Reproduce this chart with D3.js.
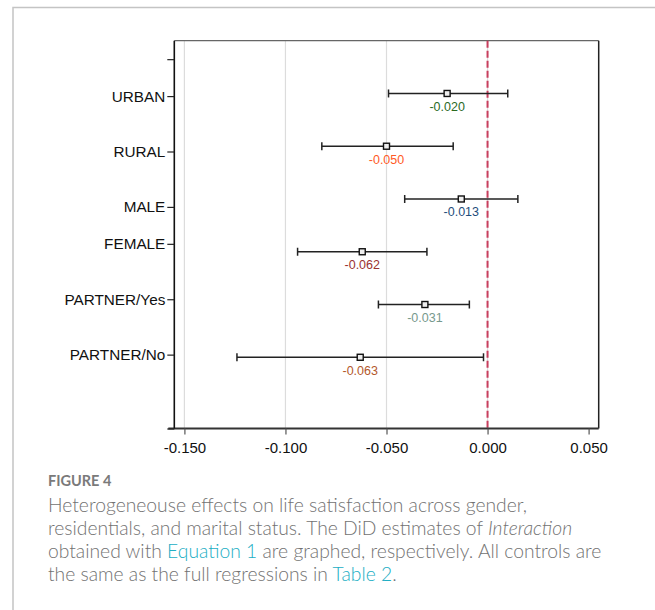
<!DOCTYPE html>
<html>
<head>
<meta charset="utf-8">
<script src="https://cdn.jsdelivr.net/npm/d3@7.9.0/dist/d3.min.js"></script>
<style>
  body { margin: 0; background: #fff; }
  svg { display: block; }
</style>
</head>
<body>
<svg id="fig" width="655" height="610"></svg>
<script>
// estimates and 95% CI
const groups = ["URBAN", "RURAL", "MALE", "FEMALE", "PARTNER/Yes", "PARTNER/No"];
const estimate = [-0.020, -0.050, -0.013, -0.062, -0.031, -0.063];
const ciLow = [-0.049, -0.082, -0.041, -0.094, -0.054, -0.124];
const ciHigh = [0.010, -0.017, 0.015, -0.030, -0.009, -0.002];

// y-axis ticks (in row units) and their labels, as in the original
const yTickAt = [0.35, 1.05, 2.1, 3.15, 3.85, 4.9, 5.95, 7.35];
const yTickLabels = ["", "URBAN", "RURAL", "MALE", "FEMALE", "PARTNER/Yes", "PARTNER/No", ""];
const xTicks = [-0.150, -0.100, -0.050, 0.000, 0.050];
const gridAt = [-0.150, -0.100, -0.050, 0.000];

const labelColors = ["#2b6a1f", "#ff5a26", "#1f4e7c", "#9a3232", "#77998d", "#b3582c"];

const svg = d3.select('#fig');

// card border
svg.append('path')
  .attr('d', 'M13,610 L13,7.5 L655,7.5')
  .attr('fill', 'none')
  .attr('stroke', '#c4c4c4')
  .attr('stroke-width', 1.5);

const pLeft = 174.3, pRight = 598.7, pTop = 40.7, pBottom = 428.5;

const x = d3.scaleLinear().domain([-0.155, 0.055]).range([pLeft, pRight]);
const y = d3.scaleLinear().domain([0, 7.35]).range([pTop, pBottom]);

// gridlines
svg.append('g').selectAll('line')
  .data(gridAt)
  .join('line')
  .attr('x1', d => x(d)).attr('x2', d => x(d))
  .attr('y1', pTop).attr('y2', pBottom)
  .attr('stroke', '#dcdcdc')
  .attr('stroke-width', 1.2);

// frame top & right
svg.append('path')
  .attr('d', `M${pLeft},${pTop} L${pRight},${pTop}`)
  .attr('stroke', '#666').attr('stroke-width', 1.2).attr('fill', 'none');
svg.append('path')
  .attr('d', `M${pRight},${pTop} L${pRight},${pBottom}`)
  .attr('stroke', '#222').attr('stroke-width', 1.5).attr('fill', 'none');

// zero line
svg.append('line')
  .attr('x1', x(0)).attr('x2', x(0))
  .attr('y1', pTop).attr('y2', pBottom)
  .attr('stroke', '#c83e5e')
  .attr('stroke-width', 2)
  .attr('stroke-dasharray', '7,3');

// bottom axis
const xAxis = svg.append('g')
  .attr('transform', `translate(0,${pBottom})`)
  .call(d3.axisBottom(x).tickValues(xTicks).tickSize(6).tickPadding(8)
    .tickFormat(d => d.toFixed(3)));
xAxis.select('.domain')
  .attr('d', `M${pLeft - 6},0 L${pRight},0`)
  .attr('stroke', '#333').attr('stroke-width', 2.2);
xAxis.selectAll('.tick line').attr('stroke', '#555').attr('stroke-width', 1.2);
xAxis.selectAll('.tick text')
  .attr('font-family', 'Liberation Sans, Arial, sans-serif')
  .attr('font-size', 15).attr('fill', '#111');

// left axis
const yAxis = svg.append('g')
  .attr('transform', `translate(${pLeft},0)`)
  .call(d3.axisLeft(y).tickValues(yTickAt).tickSize(7).tickPadding(2)
    .tickFormat((d, i) => yTickLabels[i]));
yAxis.select('.domain')
  .attr('d', `M0,${pTop} L0,${pBottom}`)
  .attr('stroke', '#111').attr('stroke-width', 1.6);
yAxis.selectAll('.tick line').attr('stroke', '#222').attr('stroke-width', 1.2);
yAxis.selectAll('.tick text')
  .attr('font-family', 'Liberation Sans, Arial, sans-serif')
  .attr('font-size', 15.3).attr('fill', '#111');

// error bars
const rows = groups.map((g, i) => ({ g, i, est: estimate[i], lo: ciLow[i], hi: ciHigh[i] }));
const bars = svg.append('g').selectAll('g')
  .data(rows)
  .join('g')
  .attr('transform', d => `translate(0,${y(d.i + 1)})`);

bars.append('line')
  .attr('x1', d => x(d.lo)).attr('x2', d => x(d.hi))
  .attr('stroke', '#222').attr('stroke-width', 1.5);
bars.append('line')
  .attr('x1', d => x(d.lo)).attr('x2', d => x(d.lo))
  .attr('y1', -4).attr('y2', 4)
  .attr('stroke', '#222').attr('stroke-width', 1.5);
bars.append('line')
  .attr('x1', d => x(d.hi)).attr('x2', d => x(d.hi))
  .attr('y1', -4).attr('y2', 4)
  .attr('stroke', '#222').attr('stroke-width', 1.5);
bars.append('rect')
  .attr('x', d => x(d.est) - 3).attr('y', -3)
  .attr('width', 6).attr('height', 6)
  .attr('fill', '#eee').attr('stroke', '#111').attr('stroke-width', 1.4);
bars.append('text')
  .attr('x', d => x(d.est)).attr('y', 17.5)
  .attr('text-anchor', 'middle')
  .attr('font-family', 'Liberation Sans, Arial, sans-serif')
  .attr('font-size', 12.5)
  .attr('fill', d => labelColors[d.i])
  .text(d => d.est.toFixed(3));

// caption
const cap = svg.append('g').attr('font-family', 'Lato, sans-serif');
cap.append('text')
  .attr('x', 48).attr('y', 486)
  .attr('font-size', 14.5).attr('font-weight', 700).attr('fill', '#7a7a7a')
  .text('FIGURE 4');

const capLines = [
  [['Heterogeneouse effects on life satisfaction across gender,', '']],
  [['residentials, and marital status. The DiD estimates of ', ''], ['Interaction', 'i']],
  [['obtained with ', ''], ['Equation 1', 'a'], [' are graphed, respectively. All controls are', '']],
  [['the same as the full regressions in ', ''], ['Table 2', 'a'], ['.', '']]
];
capLines.forEach((parts, li) => {
  const t = cap.append('text')
    .attr('x', 48).attr('y', 511.7 + li * 23.1)
    .attr('font-size', 19.3).attr('fill', '#727272')
    .attr('font-weight', 300);
  parts.forEach(([s, k]) => {
    t.append('tspan')
      .attr('font-style', k === 'i' ? 'italic' : null)
      .attr('fill', k === 'a' ? '#22aec4' : null)
      .text(s);
  });
});
</script>
</body>
</html>
